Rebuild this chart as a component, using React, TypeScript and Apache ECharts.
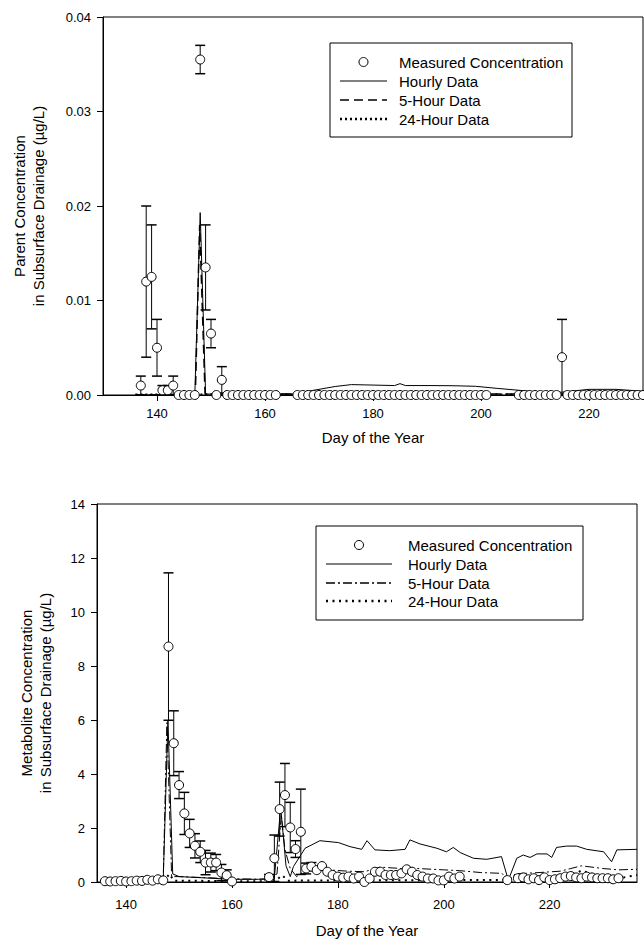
import React, { useEffect, useRef } from "react";
import * as echarts from "echarts";

const FONT = '"Liberation Sans", Arial, Helvetica, sans-serif';

// ---------------- Top chart: parent compound ----------------
const parentXTicks = [140, 160, 180, 200, 220];
const parentMeasuredDays = [
  137, 138, 139, 140, 141, 142, 143, 144, 145, 146, 147, 148, 149, 150, 151, 152, 153, 154, 155, 156, 157, 158, 159, 160, 161, 162,
  166, 167, 168, 169, 170, 171, 172, 173, 174, 175, 176, 177, 178, 179, 180, 181, 182, 183, 184, 185, 186, 187, 188, 189, 190, 191, 192, 193, 194, 195, 196, 197, 198, 199, 200, 201,
  207, 208, 209, 210, 211, 212, 213, 214, 215, 216, 217, 218, 219, 220, 221, 222, 223, 224, 225, 226, 227, 228, 229, 230,
];
const parentMeasured = [
  0.001, 0.012, 0.0125, 0.005, 0.0005, 0.0005, 0.001, 0, 0, 0, 0, 0.0355, 0.0135, 0.0065, 0, 0.0016, 0, 0, 0, 0, 0, 0, 0, 0, 0, 0,
  0, 0, 0, 0, 0, 0, 0, 0, 0, 0, 0, 0, 0, 0, 0, 0, 0, 0, 0, 0, 0, 0, 0, 0, 0, 0, 0, 0, 0, 0, 0, 0, 0, 0, 0, 0,
  0, 0, 0, 0, 0, 0, 0, 0, 0.004, 0, 0, 0, 0, 0, 0, 0, 0, 0, 0, 0, 0, 0, 0, 0,
];
const parentMeasuredErr = [
  0.001, 0.008, 0.0055, 0.003, 0.0005, 0.0005, 0.001, 0, 0, 0, 0, 0.0015, 0.0045, 0.0015, 0, 0.0014, 0, 0, 0, 0, 0, 0, 0, 0, 0, 0,
  0, 0, 0, 0, 0, 0, 0, 0, 0, 0, 0, 0, 0, 0, 0, 0, 0, 0, 0, 0, 0, 0, 0, 0, 0, 0, 0, 0, 0, 0, 0, 0, 0, 0, 0, 0,
  0, 0, 0, 0, 0, 0, 0, 0, 0.004, 0, 0, 0, 0, 0, 0, 0, 0, 0, 0, 0, 0, 0, 0, 0,
];
const parentHourlyDays = [136, 147, 148, 149, 155, 160, 165, 167, 170, 173, 176, 180, 184, 185, 186, 190, 195, 199, 203, 207, 211, 215, 220, 225, 230];
const parentHourly = [0, 0, 0.0193, 0.0001, 0.0001, 0.0001, 0.0001, 0.0003, 0.0006, 0.0009, 0.0011, 0.00105, 0.001, 0.0012, 0.001, 0.001, 0.00098, 0.00092, 0.0007, 0.0005, 0.0003, 0.0003, 0.0006, 0.0006, 0.0004];
const parentFiveHourDays = [136, 147.1, 147.9, 148.9, 230];
const parentFiveHour = [0, 0, 0.018, 0.0001, 0.0001];
const parentDailyDays = [136, 230];
const parentDaily = [0.00005, 0.00005];

// ---------------- Bottom chart: metabolite ----------------
const metaXTicks = [140, 160, 180, 200, 220];
const metaMeasuredDays = [
  136, 137, 138, 139, 140, 141, 142, 143, 144, 145, 146, 147, 148, 149, 150, 151, 152, 153, 154, 155, 156, 157, 158, 159, 160, 161, 162,
  167, 168, 169, 170, 171, 172, 173, 174, 175, 176, 177, 178, 179, 180, 181, 182, 183, 184, 185, 186, 187, 188, 189, 190, 191, 192, 193, 194, 195, 196, 197, 198, 199, 200, 201, 202, 203,
  212, 214, 215, 216, 217, 218, 219, 220, 221, 222, 223, 224, 225, 226, 227, 228, 229, 230, 231, 232, 233,
];
const metaMeasured = [
  0.03, 0.02, 0.03, 0.04, 0.02, 0.03, 0.05, 0.04, 0.08, 0.05, 0.1, 0.06, 8.72, 5.14, 3.59, 2.54, 1.8, 1.34, 1.12, 0.72, 0.72, 0.72, 0.35, 0.25, 0.02, -0.05, -0.03,
  0.18, 0.88, 2.7, 3.22, 2.02, 1.22, 1.86, 0.5, 0.57, 0.44, 0.59, 0.38, 0.26, 0.2, 0.16, 0.2, 0.13, 0.2, 0.0, 0.13, 0.38, 0.38, 0.26, 0.26, 0.26, 0.32, 0.47, 0.38, 0.26, 0.2, 0.13, 0.13, 0.06, 0.06, 0.2, 0.13, 0.2,
  0.07, 0.14, 0.17, 0.1, 0.14, 0.07, 0.17, 0.07, 0.1, 0.14, 0.2, 0.22, 0.17, 0.14, 0.2, 0.17, 0.14, 0.14, 0.14, 0.1, 0.14,
];
const metaMeasuredErr = [
  0, 0, 0, 0, 0, 0, 0, 0, 0, 0, 0, 0, 2.73, 1.2, 0.5, 0.78, 0.52, 0.45, 0.4, 0.45, 0.35, 0.3, 0.3, 0.2, 0, 0, 0,
  0.1, 0.86, 1.0, 1.17, 0.93, 0.31, 1.58, 0.2, 0.15, 0, 0, 0, 0, 0, 0, 0, 0, 0, 0, 0, 0, 0, 0, 0, 0, 0, 0, 0, 0, 0, 0, 0, 0, 0, 0, 0, 0,
  0, 0, 0, 0, 0, 0, 0, 0, 0, 0, 0, 0, 0, 0, 0, 0, 0, 0, 0, 0, 0,
];
const metaHourlyDays = [
  136, 147, 147.9, 148.8, 150, 155, 160, 165, 168, 169.2, 170.2, 171, 171.6, 173.8, 176.6, 180.1, 182.3, 184.5, 185.5, 187, 189.8, 192.7, 193.6, 195.5,
  198.7, 200.5, 201.8, 203.1, 205.6, 208.1, 210.9, 212.2, 213.8, 215, 216.3, 217.6, 219.5, 220.4, 221.3, 223.2, 225.1, 227, 230.2, 231.7, 232.7, 236.5,
];
const metaHourly = [
  0.02, 0.02, 6.0, 0.3, 0.2, 0.15, 0.1, 0.1, 0.15, 2.75, 0.6, 0.2, 0.57, 1.25, 1.53, 1.46, 1.31, 1.21, 1.53, 1.19, 1.16, 1.21, 1.56, 1.41,
  1.25, 1.12, 1.28, 1.09, 0.88, 0.84, 0.94, 0.07, 0.88, 1.0, 0.91, 1.04, 1.04, 0.91, 1.28, 1.33, 1.33, 1.21, 1.12, 0.75, 1.19, 1.21,
];
const metaFiveHourDays = [
  136, 147, 147.7, 148.6, 150, 160, 166, 168.5, 169.3, 170, 171, 172.2, 174, 178, 182, 185, 188, 192, 195, 200, 203, 207, 211, 212.2, 213.5, 218, 222, 224, 226, 228, 230, 233, 236.5,
];
const metaFiveHour = [
  0.01, 0.01, 5.9, 0.2, 0.2, 0.12, 0.1, 0.3, 2.5, 1.2, 0.5, 0.2, 0.45, 0.45, 0.4, 0.38, 0.55, 0.5, 0.5, 0.45, 0.42, 0.35, 0.32, 0.05, 0.3, 0.35, 0.4, 0.5, 0.6, 0.55, 0.5, 0.45, 0.47,
];
const metaDailyDays = [136, 147, 148.2, 149, 168, 169.5, 170.5, 203, 212, 220, 223, 226, 228, 231, 234, 236.5];
const metaDaily = [0, 0, 0.3, 0.05, 0.02, 0.25, 0.05, 0.07, 0.07, 0.05, 0.15, 0.42, 0.3, 0.2, 0.17, 0.26];

const pairs = (xs: number[], ys: number[]) => xs.map((x, i) => [x, ys[i]]);
const errTriples = (xs: number[], ys: number[], es: number[]) =>
  xs.map((x, i) => [x, ys[i], es[i]]).filter((d) => d[2] > 0);

function errorBarRender(_params: any, api: any) {
  const x = api.value(0);
  const y = api.value(1);
  const e = api.value(2);
  const c = api.coord([x, y]);
  const hi = api.coord([x, y + e]);
  const lo = api.coord([x, y - e]);
  const w = 5;
  return {
    type: "group",
    children: [
      { type: "line", shape: { x1: c[0], y1: hi[1], x2: c[0], y2: lo[1] }, style: { stroke: "#000", lineWidth: 1 } },
      { type: "line", shape: { x1: c[0] - w, y1: hi[1], x2: c[0] + w, y2: hi[1] }, style: { stroke: "#000", lineWidth: 1.5 } },
      { type: "line", shape: { x1: c[0] - w, y1: lo[1], x2: c[0] + w, y2: lo[1] }, style: { stroke: "#000", lineWidth: 1.5 } },
    ],
  };
}

const axisLabelStyle = { color: "#000", fontSize: 13, fontFamily: FONT };
const blackLine = { color: "#000", width: 1 };

function xAxisCfg(gridIndex: number, min: number, max: number, ticks: number[], margin: number) {
  return {
    gridIndex,
    type: "value",
    min,
    max,
    axisLine: { show: true, onZero: false, lineStyle: blackLine },
    axisTick: { show: true, length: 6, customValues: ticks, lineStyle: blackLine },
    axisLabel: { ...axisLabelStyle, margin, customValues: ticks },
    splitLine: { show: false },
  };
}

function yAxisCfg(gridIndex: number, max: number, interval: number, digits: number) {
  return {
    gridIndex,
    type: "value",
    min: 0,
    max,
    interval,
    axisLine: { show: true, onZero: false, lineStyle: blackLine },
    axisTick: { show: true, length: 6, lineStyle: blackLine },
    axisLabel: { ...axisLabelStyle, margin: 12, formatter: (v: number) => v.toFixed(digits) },
    splitLine: { show: false },
  };
}

function lineSeries(name: string, xi: number, data: number[][], type: any, width: number, z: number) {
  return {
    name,
    type: "line",
    xAxisIndex: xi,
    yAxisIndex: xi,
    data,
    symbol: "none",
    lineStyle: { color: "#000", width, type },
    z,
    silent: true,
  };
}

function measuredSeries(xi: number, data: number[][]) {
  return {
    name: "Measured Concentration",
    type: "scatter",
    xAxisIndex: xi,
    yAxisIndex: xi,
    data,
    symbol: "circle",
    symbolSize: 9,
    itemStyle: { color: "#fff", borderColor: "#000", borderWidth: 1, opacity: 1 },
    z: 6,
    silent: true,
  };
}

function errorSeries(xi: number, data: number[][]) {
  return {
    type: "custom",
    xAxisIndex: xi,
    yAxisIndex: xi,
    data,
    encode: { x: 0, y: 1 },
    renderItem: errorBarRender,
    z: 4,
    silent: true,
  };
}

const txtFont = `15px ${FONT}`;

function text(x: number, y: number, s: string, opts: any = {}) {
  return {
    type: "text",
    x,
    y,
    rotation: opts.rotation || 0,
    z: 100,
    style: {
      text: s,
      font: txtFont,
      fill: "#000",
      textAlign: opts.align || "left",
      textVerticalAlign: "middle",
      align: opts.align || "left",
      verticalAlign: "middle",
    },
  };
}

function legend(box: number[], sym: number[], textX: number, rows: number[], dash5: number[], dash24: number[], w24: number) {
  const [bx, by, bw, bh] = box;
  const [sx1, sx2] = sym;
  const cx = (sx1 + sx2) / 2;
  return [
    { type: "rect", z: 99, shape: { x: bx, y: by, width: bw, height: bh }, style: { fill: "#fff", stroke: "#000", lineWidth: 1 } },
    { type: "circle", z: 100, shape: { cx, cy: rows[0], r: 4.5 }, style: { fill: "#fff", stroke: "#000", lineWidth: 1 } },
    { type: "line", z: 100, shape: { x1: sx1, y1: rows[1], x2: sx2, y2: rows[1] }, style: { stroke: "#000", lineWidth: 1 } },
    { type: "line", z: 100, shape: { x1: sx1, y1: rows[2], x2: sx2, y2: rows[2] }, style: { stroke: "#000", lineWidth: 1.5, lineDash: dash5 } },
    { type: "line", z: 100, shape: { x1: sx1, y1: rows[3], x2: sx2, y2: rows[3] }, style: { stroke: "#000", lineWidth: w24, lineDash: dash24 } },
    text(textX, rows[0], "Measured Concentration"),
    text(textX, rows[1], "Hourly Data"),
    text(textX, rows[2], "5-Hour Data"),
    text(textX, rows[3], "24-Hour Data"),
  ];
}

export default function App() {
  const ref = useRef<HTMLDivElement>(null);
  useEffect(() => {
    const chart = echarts.init(ref.current!, null, { renderer: "svg" });
    const option: any = {
      animation: false,
      backgroundColor: "#fff",
      grid: [
        { left: 103, top: 17, width: 540, height: 378, show: true, borderColor: "#000", borderWidth: 1, containLabel: false },
        { left: 97, top: 504, width: 540, height: 378, show: true, borderColor: "#000", borderWidth: 1, containLabel: false },
      ],
      xAxis: [xAxisCfg(0, 130, 230, parentXTicks, 12), xAxisCfg(1, 134.5, 236.5, metaXTicks, 16)],
      yAxis: [yAxisCfg(0, 0.04, 0.01, 2), yAxisCfg(1, 14, 2, 0)],
      series: [
        lineSeries("Hourly Data", 0, pairs(parentHourlyDays, parentHourly), "solid", 1, 3),
        lineSeries("5-Hour Data", 0, pairs(parentFiveHourDays, parentFiveHour), [9, 5], 1.5, 3),
        lineSeries("24-Hour Data", 0, pairs(parentDailyDays, parentDaily), [2, 3], 2, 3),
        errorSeries(0, errTriples(parentMeasuredDays, parentMeasured, parentMeasuredErr)),
        measuredSeries(0, pairs(parentMeasuredDays, parentMeasured)),
        lineSeries("Hourly Data", 1, pairs(metaHourlyDays, metaHourly), "solid", 1, 3),
        lineSeries("5-Hour Data", 1, pairs(metaFiveHourDays, metaFiveHour), [9, 3, 2, 3], 1, 3),
        lineSeries("24-Hour Data", 1, pairs(metaDailyDays, metaDaily), [2, 4.5], 2, 3),
        errorSeries(1, errTriples(metaMeasuredDays, metaMeasured, metaMeasuredErr)),
        measuredSeries(1, pairs(metaMeasuredDays, metaMeasured)),
      ],
      graphic: [
        ...legend([330, 43, 242, 94], [340, 387], 399, [62, 81, 100, 119], [9, 5], [2, 3], 2.5),
        ...legend([316, 526, 267, 94], [326, 392], 408, [545, 564, 583, 601], [9, 3, 2, 3], [2, 4.5], 2.5),
        text(19, 206, "Parent Concentration", { align: "center", rotation: Math.PI / 2 }),
        text(38, 206, "in Subsurface Drainage (µg/L)", { align: "center", rotation: Math.PI / 2 }),
        text(26, 693, "Metabolite Concentration", { align: "center", rotation: Math.PI / 2 }),
        text(45, 693, "in Subsurface Drainage (µg/L)", { align: "center", rotation: Math.PI / 2 }),
        text(373, 437, "Day of the Year", { align: "center" }),
        text(367, 930, "Day of the Year", { align: "center" }),
      ],
    };
    chart.setOption(option);
    return () => chart.dispose();
  }, []);
  return (
    <div
      ref={ref}
      style={{ position: "fixed", left: 0, top: 0, width: 644, height: 942, background: "#fff" }}
    />
  );
}
